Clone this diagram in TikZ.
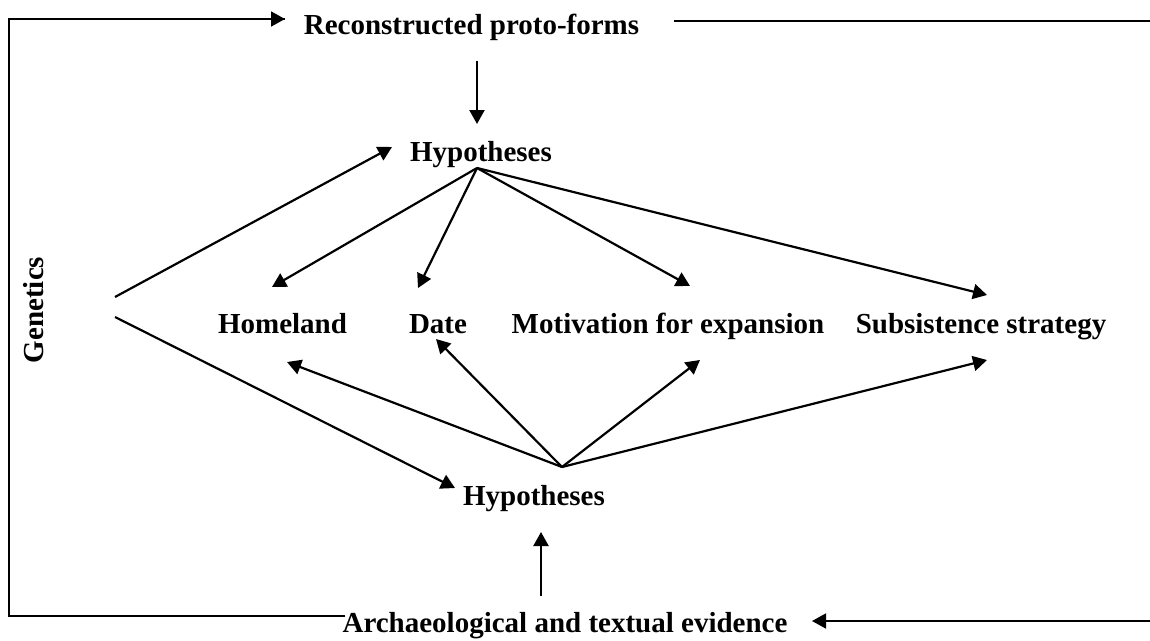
\documentclass[tikz,border=0pt]{standalone}
\usepackage{fontspec}
\setmainfont{Liberation Serif}
\usetikzlibrary{arrows.meta}
\begin{document}
\begin{tikzpicture}[x=1pt,y=-1pt,
  lbl/.style={inner sep=0pt, anchor=base, font=\fontsize{29}{34}\selectfont\bfseries},
  frame/.style={line width=1.8pt},
  arr/.style={line width=2.2pt, -{Triangle[length=14pt,width=15pt]}},
  farr/.style={line width=1.8pt, -{Triangle[length=14pt,width=15pt]}}]
\useasboundingbox (0,0) rectangle (1150,640);
% labels
\node[lbl] (rec) at (471.5,34) {Reconstructed proto-forms};
\node[lbl] (hypT) at (481,161) {Hypotheses};
\node[lbl] (home) at (282.5,333) {Homeland};
\node[lbl] (date) at (438,333) {Date};
\node[lbl] (moti) at (668,333) {Motivation for expansion};
\node[lbl] (subs) at (981,333) {Subsistence strategy};
\node[lbl] (hypB) at (534,505) {Hypotheses};
\node[lbl] (arch) at (565,632) {Archaeological and textual evidence};
\node[lbl, rotate=90] (gen) at (43,310) {Genetics};
% coordinates
\coordinate (tl) at (9,19);
\coordinate (bl) at (9,616);
\coordinate (tarr) at (285,19);
\coordinate (barl) at (345,616);
\coordinate (trs) at (674,21);
\coordinate (tre) at (1150,21);
\coordinate (brs) at (1150,621);
\coordinate (bre) at (812,621);
\coordinate (dnS) at (477,61);
\coordinate (dnE) at (477,124);
\coordinate (upS) at (541,596);
\coordinate (upE) at (541,532);
\coordinate (g1) at (115,297);
\coordinate (g1e) at (392,147);
\coordinate (g2) at (115,317);
\coordinate (g2e) at (455,488);
\coordinate (fT) at (477,168);
\coordinate (fB) at (562,467);
\coordinate (tH) at (272,287);
\coordinate (tD) at (418,288);
\coordinate (tM) at (690,286);
\coordinate (tS) at (987,295);
\coordinate (bH) at (287,362);
\coordinate (bD) at (436,339);
\coordinate (bM) at (700,360);
\coordinate (bS) at (987,360);
% frame
\draw[frame] (barl) -- (bl) -- (tl) -- (tarr);
\draw[farr] (tl) -- (tarr);
\draw[frame] (trs) -- (tre);
\draw[farr] (brs) -- (bre);
% vertical arrows
\draw[arr] (dnS) -- (dnE);
\draw[arr] (upS) -- (upE);
% genetics
\draw[arr] (g1) -- (g1e);
\draw[arr] (g2) -- (g2e);
% fans
\foreach \t in {tH,tD,tM,tS} \draw[arr] (fT) -- (\t);
\foreach \t in {bH,bD,bM,bS} \draw[arr] (fB) -- (\t);
\end{tikzpicture}
\end{document}
